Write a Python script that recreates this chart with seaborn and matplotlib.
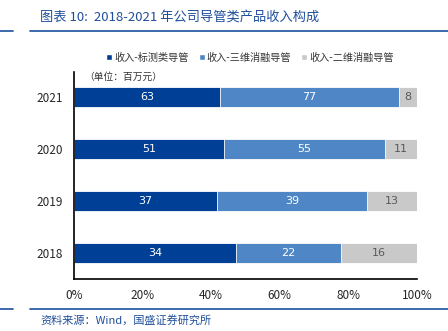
import matplotlib
matplotlib.use("Agg")
import matplotlib.pyplot as plt
import seaborn as sns
import pandas as pd
import numpy as np
from matplotlib.patches import Patch

years = ["2021", "2020", "2019", "2018"]
series_names = ["收入-标测类导管", "收入-三维消融导管", "收入-二维消融导管"]
mapping = [63, 51, 37, 34]
ablation3d = [77, 55, 39, 22]
ablation2d = [8, 11, 13, 16]
xtick_labels = ["0%", "20%", "40%", "60%", "80%", "100%"]
colors = ["#003F96", "#4F86C6", "#C9C9C9"]
text_colors = ["white", "white", "#595959"]

sns.set_theme(style="white")
plt.rcParams['font.family'] = ['Noto Sans CJK SC', 'DejaVu Sans']

df = pd.DataFrame({"year": years, "a": mapping, "b": ablation3d, "c": ablation2d})
tot = df[["a", "b", "c"]].sum(axis=1)
df["pa"] = df["a"] / tot * 100
df["pb"] = df["b"] / tot * 100
df["pc"] = df["c"] / tot * 100
df["cum1"] = df["pa"]
df["cum2"] = df["pa"] + df["pb"]
df["cum3"] = df["cum2"] + df["pc"]

fig = plt.figure(figsize=(4.48, 3.31), dpi=100)
ax = fig.add_axes([0.165, 0.157, 0.766, 0.625])

for col, c in zip(["cum3", "cum2", "cum1"], colors[::-1]):
    sns.barplot(data=df, x=col, y="year", order=years, color=c, orient="h",
                width=0.38, ax=ax, edgecolor="white", linewidth=0.6, saturation=1)

for i, row in df.iterrows():
    starts = [0, row["cum1"], row["cum2"]]
    widths = [row["pa"], row["pb"], row["pc"]]
    vals = [row["a"], row["b"], row["c"]]
    for s, w, v, tc in zip(starts, widths, vals, text_colors):
        ax.text(s + w / 2, i, str(v), ha="center", va="center", color=tc, fontsize=8,
                family=['Liberation Sans Narrow', 'DejaVu Sans'])

ax.set_xlim(0, 100)
ax.set_ylim(3.5, -0.48)
ax.set_xticks([0, 20, 40, 60, 80, 100])
ax.set_xticklabels(xtick_labels, fontsize=8.5)
ax.tick_params(axis="x", pad=7, length=0)
ax.tick_params(axis="y", pad=8, length=0, labelsize=8.5)
ax.set_xlabel("")
ax.set_ylabel("")
for s in ["top", "right"]:
    ax.spines[s].set_visible(False)
for s in ["left", "bottom"]:
    ax.spines[s].set_color("black")
    ax.spines[s].set_linewidth(1.2)

handles = [Patch(facecolor=c, label=n) for c, n in zip(colors, series_names)]
fig.legend(handles=handles, loc="center", bbox_to_anchor=(0.558, 0.826), ncol=3,
           frameon=False, fontsize=7.3, handlelength=0.6, handleheight=0.6,
           handletextpad=0.2, columnspacing=1.0, labelcolor="#333333")

fig.text(0.188, 0.768, "（单位：百万元）", fontsize=7, ha="left", va="center", color="#333333")

title_color = "#1F4E9A"
fig.text(0.09, 0.948, "图表 10:  2018-2021 年公司导管类产品收入构成", fontsize=9.5,
         color=title_color, ha="left", va="center", style="italic")
fig.add_artist(plt.Line2D([0.068, 1.0], [0.906, 0.906], color="#2E5FA8", lw=1.3))
fig.add_artist(plt.Line2D([0.0, 0.03], [0.906, 0.906], color="#2E5FA8", lw=1.3))
fig.add_artist(plt.Line2D([0.068, 1.0], [0.067, 0.067], color="#2E5FA8", lw=1.3))
fig.add_artist(plt.Line2D([0.0, 0.03], [0.067, 0.067], color="#2E5FA8", lw=1.3))
fig.text(0.09, 0.033, "资料来源：Wind，国盛证券研究所", fontsize=8, color=title_color,
         ha="left", va="center", style="italic")

fig.savefig("out.png", dpi=100)
